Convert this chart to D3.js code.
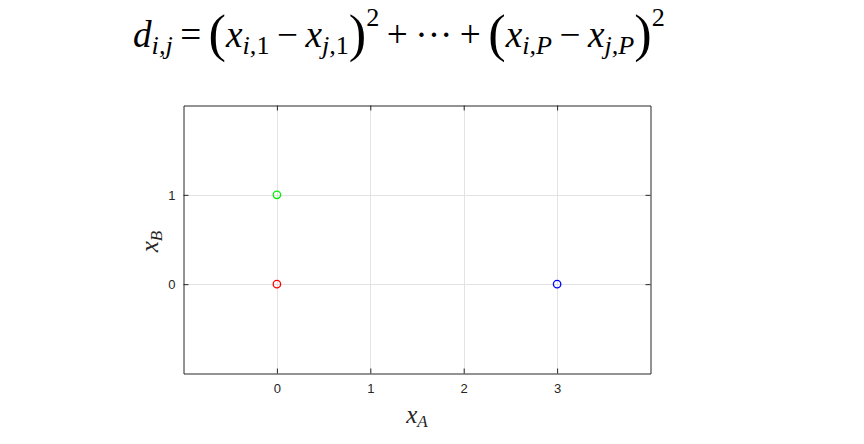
<!DOCTYPE html>
<html><head><meta charset="utf-8">
<script src="https://cdn.jsdelivr.net/npm/d3@7"></script>
<style>body{margin:0;background:#fff}</style>
</head><body>
<svg id="c" width="864" height="444"></svg>
<script>
const pointNames = ["green", "red", "blue"];
const xA = [0, 0, 3];
const xB = [1, 0, 0];
const pointColors = ["#00ee00", "#ff0000", "#0000ff"];
const xTicks = [0, 1, 2, 3];
const yTicks = [0, 1];
const xDomain = [-1, 4];
const yDomain = [-1, 2];

const svg = d3.select("#c");
const L = 183.5, R = 650.5, T = 105.5, B = 373.5;
const x = d3.scaleLinear().domain(xDomain).range([L, R]);
const y = d3.scaleLinear().domain(yDomain).range([B, T]);
const ink = "#262626";

// grid
svg.append("g").selectAll("line").data(xTicks).join("line")
  .attr("x1", d => Math.round(x(d)) + 0.5).attr("x2", d => Math.round(x(d)) + 0.5)
  .attr("y1", T).attr("y2", B).attr("stroke", "#e3e3e3").attr("stroke-width", 1);
svg.append("g").selectAll("line").data(yTicks).join("line")
  .attr("y1", d => Math.round(y(d)) + 0.5).attr("y2", d => Math.round(y(d)) + 0.5)
  .attr("x1", L).attr("x2", R).attr("stroke", "#e3e3e3").attr("stroke-width", 1);

// axes (MATLAB style: ticks inward, box)
const axB = d3.axisBottom(x).tickValues(xTicks).tickSizeInner(-5).tickSizeOuter(0).tickPadding(10).tickFormat(d3.format("d"));
const axT = d3.axisTop(x).tickValues(xTicks).tickSizeInner(-5).tickSizeOuter(0).tickFormat("");
const axL = d3.axisLeft(y).tickValues(yTicks).tickSizeInner(-5).tickSizeOuter(0).tickPadding(8).tickFormat(d3.format("d"));
const axRt = d3.axisRight(y).tickValues(yTicks).tickSizeInner(-5).tickSizeOuter(0).tickFormat("");
function style(g){
  g.selectAll("path").attr("stroke", ink).attr("stroke-width", 1);
  g.selectAll("line").attr("stroke", ink).attr("stroke-width", 1);
  g.selectAll("text").attr("fill", ink).style("font-family", "Liberation Sans").style("font-size", "13px");
}
svg.append("g").attr("transform", `translate(0,${B})`).call(axB).call(style);
svg.append("g").attr("transform", `translate(0,${T})`).call(axT).call(style);
svg.append("g").attr("transform", `translate(${L},0)`).call(axL).call(style);
svg.append("g").attr("transform", `translate(${R},0)`).call(axRt).call(style);

// points
svg.append("g").selectAll("circle").data(pointNames).join("circle")
  .attr("cx", (d, i) => x(xA[i])).attr("cy", (d, i) => y(xB[i])).attr("r", 3.7)
  .attr("fill", "none").attr("stroke", (d, i) => pointColors[i]).attr("stroke-width", 1.3);

const serif = "Liberation Serif";
// axis labels
const xl = svg.append("text").attr("x", 417).attr("y", 423).attr("text-anchor", "middle")
  .style("font-family", serif).style("font-size", "25px").style("font-style", "italic").attr("fill", ink);
xl.append("tspan").text("x");
xl.append("tspan").attr("dy", 4).style("font-size", "17px").text("A");

const yl = svg.append("text").attr("transform", `translate(158,${y(0.5) + 2}) rotate(-90)`).attr("text-anchor", "middle")
  .style("font-family", serif).style("font-size", "25px").style("font-style", "italic").attr("fill", ink);
yl.append("tspan").text("x");
yl.append("tspan").attr("dy", 4).style("font-size", "17px").text("B");

// formula
const fg = svg.append("g");
const f = fg.append("text").attr("x", 0).attr("y", 0)
  .style("font-family", serif).style("font-size", "27px").attr("fill", "#000");
const parts = [
  ["d", "it"], ["i,j", "subit"], ["\u2009=\u2009", "n"], ["(", "paren"],
  ["x", "it"], ["i,", "subit"], ["1", "sub"], ["\u2009\u2212\u2009", "n"], ["x", "it"], ["j,", "subit"], ["1", "sub"], [")", "paren"],
  ["2", "sup"], ["\u2009+\u2009\u00b7\u00b7\u00b7\u2009+\u2009", "n"], ["(", "paren"],
  ["x", "it"], ["i,P", "subit"], ["\u2009\u2212\u2009", "n"], ["x", "it"], ["j,P", "subit"], [")", "paren"], ["2", "sup"]
];
let shift = 0;
parts.forEach(p => {
  const t = f.append("tspan").text(p[0]);
  let target = 0;
  if (p[1] === "subit") { target = 5; t.style("font-size", "19px").style("font-style", "italic"); }
  else if (p[1] === "sub") { target = 5; t.style("font-size", "19px"); }
  else if (p[1] === "sup") { target = -15; t.style("font-size", "19px"); }
  else if (p[1] === "it") { t.style("font-style", "italic"); }
  else if (p[1] === "paren") { target = 3; t.style("font-size", "38px"); }
  t.attr("dy", target - shift);
  shift = target;
});
const bb = f.node().getBBox();
const sx = 532 / bb.width;
fg.attr("transform", `translate(${133 - bb.x * sx},47) scale(${sx})`);
</script>
</body></html>
